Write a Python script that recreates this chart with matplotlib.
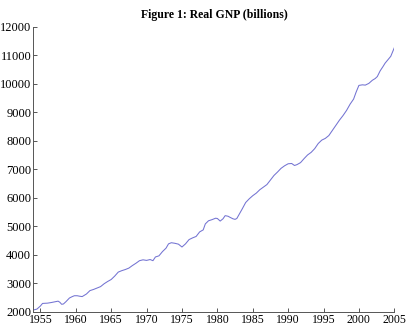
import matplotlib
matplotlib.use('Agg')
import matplotlib.pyplot as plt

# Real GNP, valores (anio, miles de millones)
anios = [1954.0, 1954.5, 1955.0, 1955.3, 1956.0, 1956.5, 1957.0, 1957.5, 1957.75, 1958.0,
         1958.25, 1958.6, 1959.1, 1959.5, 1959.8, 1960.2, 1960.5, 1960.9, 1961.5, 1962.0,
         1962.5, 1963.0, 1963.5, 1964.0, 1964.5, 1965.0, 1965.5, 1966.0, 1966.5, 1967.0,
         1967.5, 1968.0, 1968.5, 1969.0, 1969.5, 1970.0, 1970.5, 1970.9, 1971.25, 1971.75,
         1972.25, 1972.75, 1973.1, 1973.5, 1974.0, 1974.5, 1975.0, 1975.5, 1976.0, 1976.5,
         1977.0, 1977.5, 1978.0, 1978.3, 1978.75, 1979.25, 1979.75, 1980.0, 1980.4, 1980.8,
         1981.1, 1981.5, 1981.8, 1982.2, 1982.5, 1982.75, 1983.0, 1983.5, 1984.0, 1984.5,
         1985.0, 1985.5, 1986.0, 1986.5, 1987.0, 1987.5, 1988.0, 1988.5, 1989.0, 1989.5,
         1990.0, 1990.5, 1990.9, 1991.25, 1991.75, 1992.25, 1992.75, 1993.25, 1993.75, 1994.25,
         1994.75, 1995.25, 1995.75, 1996.25, 1996.75, 1997.25, 1997.75, 1998.25, 1998.75, 1999.25,
         1999.6, 2000.0, 2000.5, 2000.9, 2001.4, 2001.9, 2002.3, 2002.6, 2003.0, 2003.4,
         2003.7, 2004.1, 2004.5, 2005.0]
gnp = [2060, 2090, 2200, 2290, 2300, 2320, 2345, 2370, 2330, 2260,
       2270, 2350, 2480, 2530, 2560, 2560, 2545, 2530, 2620, 2740,
       2780, 2830, 2880, 2980, 3060, 3130, 3250, 3390, 3440, 3480,
       3530, 3620, 3700, 3790, 3820, 3800, 3830, 3790, 3920, 3960,
       4110, 4230, 4380, 4420, 4400, 4370, 4270, 4380, 4530, 4590,
       4640, 4800, 4870, 5080, 5190, 5230, 5280, 5270, 5180, 5260,
       5370, 5350, 5310, 5260, 5240, 5270, 5380, 5600, 5830, 5960,
       6070, 6160, 6280, 6370, 6460, 6620, 6780, 6900, 7030, 7120,
       7190, 7200, 7130, 7160, 7230, 7370, 7500, 7590, 7720, 7900,
       8020, 8080, 8180, 8360, 8540, 8720, 8880, 9060, 9280, 9460,
       9700, 9940, 9960, 9950, 10010, 10120, 10180, 10250, 10450, 10600,
       10720, 10840, 10960, 11260]

ticks_y = list(range(2000, 12001, 1000))
ticks_x = list(range(1955, 2006, 5))

fig = plt.figure(figsize=(4.1, 3.27), dpi=100)
ax = fig.add_axes([0.0813, 0.0468, 0.8804, 0.8716])

ax.plot(anios, gnp, color='#7373d2', linewidth=0.75)

ax.set_xlim(1954, 2005)
ax.set_ylim(2000, 12000)
ax.set_xticks(ticks_x)
ax.set_yticks(ticks_y)
ax.tick_params(direction='in', length=3, width=0.7, color='#555555')
ax.tick_params(axis='y', labelsize=9, pad=1.5)
ax.tick_params(axis='x', labelsize=8.5, pad=1.5)
for lab in ax.get_xticklabels() + ax.get_yticklabels():
    lab.set_family('Liberation Serif')

ax.spines['top'].set_visible(False)
ax.spines['right'].set_visible(False)
ax.spines['left'].set_color('#555555')
ax.spines['bottom'].set_color('#555555')
ax.spines['left'].set_linewidth(0.7)
ax.spines['bottom'].set_linewidth(0.7)

fig.text(0.522, 0.953, 'Figure 1: Real GNP (billions)', ha='center', va='center',
         fontsize=8.5, fontweight='bold', family='Liberation Serif')

fig.savefig('out.png', dpi=100)
plt.close(fig)
